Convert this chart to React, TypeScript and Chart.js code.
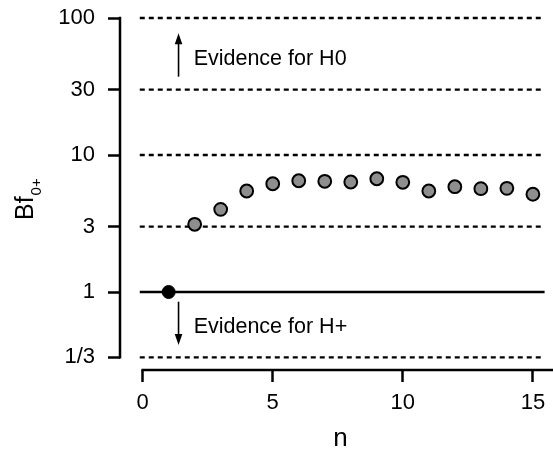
import React, { useEffect, useRef } from "react";
import { Chart, registerables } from "chart.js";

Chart.register(...registerables);

// ---- data ----
const nValues = [2, 3, 4, 5, 6, 7, 8, 9, 10, 11, 12, 13, 14, 15];
const bfValues = [3.12, 4.01, 5.46, 6.17, 6.49, 6.43, 6.35, 6.71, 6.32, 5.46, 5.87, 5.68, 5.71, 5.17];
const firstN = [1];
const firstBf = [1];
const dashedLevels = [100, 30, 10, 3, 1 / 3];
const solidLevels = [1];
const yTickValues = [1 / 3, 1, 3, 10, 30, 100];
const yTickLabels = ["1/3", "1", "3", "10", "30", "100"];
const xTickValues = [0, 5, 10, 15];
const xTickLabels = ["0", "5", "10", "15"];
const annotationTexts = ["Evidence for H0", "Evidence for H+"];

// ---- layout constants (data coordinates) ----
const xMin = -0.87;
const xMax = 15.45;
const yMin = 0.2696;
const yMax = 100;
const lineStartX = -0.11;
const arrowX = 1.38;
const arrowUp = [37.3, 77.3];
const arrowDown = [0.85, 0.41];
const textX = 1.96;
const textY = [45.4, 0.502];
const xTitleValue = 7.6;

const FONT = "'Liberation Sans', Arial, Helvetica, sans-serif";

const decorPlugin = {
  id: "decor",
  afterDraw(chart: any) {
    const ctx = chart.ctx as CanvasRenderingContext2D;
    const xs = chart.scales.x;
    const ys = chart.scales.y;
    const area = chart.chartArea;
    ctx.save();
    ctx.strokeStyle = "#000";
    ctx.fillStyle = "#000";
    ctx.lineWidth = 2.5;
    // y axis line
    ctx.beginPath();
    ctx.moveTo(area.left, ys.getPixelForValue(yTickValues[yTickValues.length - 1]) - 1.25);
    ctx.lineTo(area.left, ys.getPixelForValue(yTickValues[0]) + 1.25);
    ctx.stroke();
    // x axis line
    ctx.beginPath();
    ctx.moveTo(xs.getPixelForValue(xTickValues[0]) - 1.25, area.bottom);
    ctx.lineTo(chart.width, area.bottom);
    ctx.stroke();

    // arrows
    const ax = xs.getPixelForValue(arrowX);
    const drawArrow = (fromV: number, toV: number) => {
      const y0 = ys.getPixelForValue(fromV);
      const y1 = ys.getPixelForValue(toV);
      const dir = y1 < y0 ? -1 : 1;
      ctx.lineWidth = 1.6;
      ctx.beginPath();
      ctx.moveTo(ax, y0);
      ctx.lineTo(ax, y1 - dir * 8);
      ctx.stroke();
      ctx.beginPath();
      ctx.moveTo(ax, y1);
      ctx.lineTo(ax - 3.8, y1 - dir * 11);
      ctx.lineTo(ax + 3.8, y1 - dir * 11);
      ctx.closePath();
      ctx.fill();
    };
    drawArrow(arrowUp[0], arrowUp[1]);
    drawArrow(arrowDown[0], arrowDown[1]);

    // annotation texts
    ctx.font = `21.5px ${FONT}`;
    ctx.textAlign = "left";
    ctx.textBaseline = "alphabetic";
    annotationTexts.forEach((t, i) => {
      ctx.fillText(t, xs.getPixelForValue(textX), ys.getPixelForValue(textY[i]));
    });

    // x title
    ctx.font = `26px ${FONT}`;
    ctx.textAlign = "center";
    ctx.fillText("n", xs.getPixelForValue(xTitleValue), 446);

    // y title with subscript
    ctx.save();
    ctx.translate(33, 220);
    ctx.rotate(-Math.PI / 2);
    ctx.textAlign = "left";
    ctx.font = `25px ${FONT}`;
    ctx.fillText("Bf", 0, 0);
    const w = ctx.measureText("Bf").width;
    ctx.font = `15px ${FONT}`;
    ctx.fillText("0+", w + 1, 8);
    ctx.restore();

    ctx.restore();
  },
};

export default function App() {
  const ref = useRef<HTMLCanvasElement | null>(null);

  useEffect(() => {
    if (!ref.current) return;
    const lineSets = dashedLevels.map((v) => ({
      type: "line" as const,
      data: [
        { x: lineStartX, y: v },
        { x: xMax, y: v },
      ],
      borderColor: "#000",
      borderWidth: 2.3,
      borderDash: [5, 4],
      pointRadius: 0,
      fill: false,
      clip: false,
      order: 3,
    }));
    const solidSets = solidLevels.map((v) => ({
      type: "line" as const,
      data: [
        { x: lineStartX, y: v },
        { x: xMax, y: v },
      ],
      borderColor: "#000",
      borderWidth: 2.3,
      pointRadius: 0,
      fill: false,
      clip: false,
      order: 3,
    }));
    const chart = new Chart(ref.current, {
      type: "scatter",
      data: {
        datasets: [
          {
            data: nValues.map((n, i) => ({ x: n, y: bfValues[i] })),
            backgroundColor: "#8e8e8e",
            borderColor: "#000",
            borderWidth: 2,
            pointRadius: 6.4,
            order: 1,
          },
          {
            data: firstN.map((n, i) => ({ x: n, y: firstBf[i] })),
            backgroundColor: "#000",
            borderColor: "#000",
            borderWidth: 1,
            pointRadius: 6.5,
            order: 1,
          },
          ...lineSets,
          ...solidSets,
        ] as any,
      },
      options: {
        animation: false,
        responsive: true,
        maintainAspectRatio: false,
        layout: { padding: { top: 18, left: 0, right: 0, bottom: 0 } },
        plugins: {
          legend: { display: false },
          tooltip: { enabled: false },
        },
        scales: {
          x: {
            type: "linear",
            min: xMin,
            max: xMax,
            border: { display: false },
            grid: {
              drawOnChartArea: false,
              drawTicks: true,
              tickLength: 12,
              tickColor: "#000",
              tickWidth: 2.5,
            },
            ticks: {
              color: "#000",
              font: { family: FONT, size: 22 },
              padding: 8,
              maxRotation: 0,
              autoSkip: false,
              callback: (v: any) => {
                const i = xTickValues.indexOf(Number(v));
                return i >= 0 ? xTickLabels[i] : "";
              },
            },
            afterBuildTicks: (scale: any) => {
              scale.ticks = xTickValues.map((v) => ({ value: v }));
            },
            afterFit: (scale: any) => {
              scale.height = 80;
              scale.paddingLeft = 0;
              scale.paddingRight = 0;
            },
          },
          y: {
            type: "logarithmic",
            min: yMin,
            max: yMax,
            border: { display: false },
            grid: {
              drawOnChartArea: false,
              drawTicks: true,
              tickLength: 12,
              tickColor: "#000",
              tickWidth: 2.5,
            },
            ticks: {
              color: "#000",
              font: { family: FONT, size: 22 },
              padding: 13,
              autoSkip: false,
              callback: (v: any) => {
                const i = yTickValues.findIndex((t) => Math.abs(t - Number(v)) < 1e-6);
                return i >= 0 ? yTickLabels[i] : "";
              },
            },
            afterBuildTicks: (scale: any) => {
              scale.ticks = yTickValues.map((v) => ({ value: v }));
            },
            afterFit: (scale: any) => {
              scale.width = 120;
              scale.paddingTop = 0;
              scale.paddingBottom = 0;
            },
          },
        },
      },
      plugins: [decorPlugin],
    } as any);
    return () => chart.destroy();
  }, []);

  return (
    <div style={{ position: "fixed", left: 0, top: 0, width: 553, height: 450, background: "#fff" }}>
      <canvas ref={ref} />
    </div>
  );
}
